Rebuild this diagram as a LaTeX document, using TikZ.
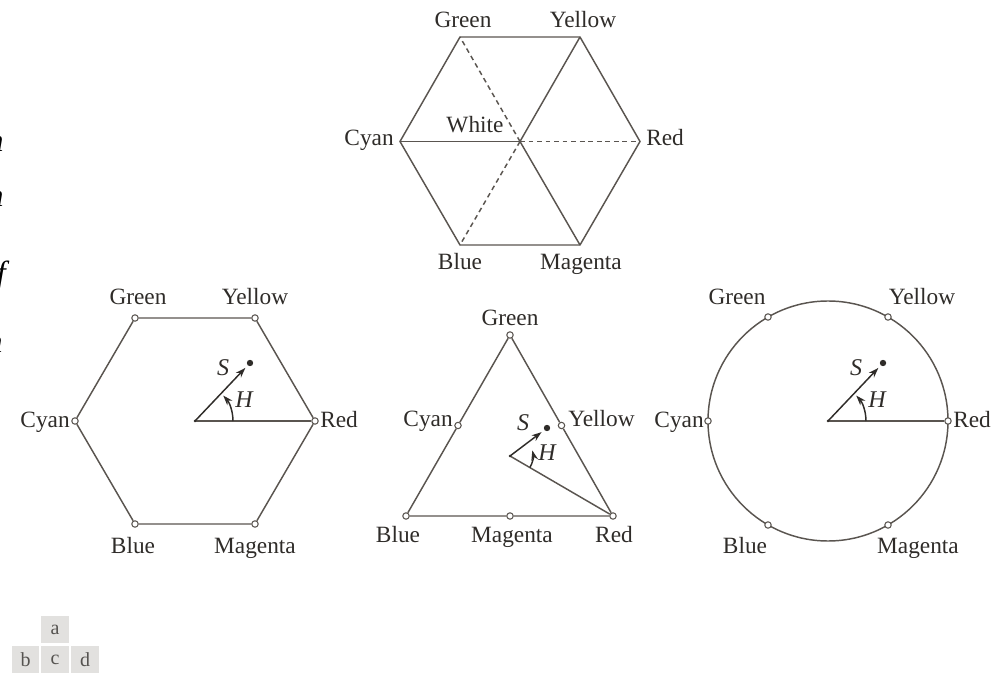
\documentclass[tikz,border=0pt]{standalone}
\usepackage{fontspec}
\setmainfont{Liberation Serif}
\usetikzlibrary{arrows.meta}

\definecolor{ink}{HTML}{5A5550}
\definecolor{txt}{HTML}{2F2C29}
\definecolor{tabfill}{HTML}{E2E1DF}
\definecolor{tabtext}{HTML}{555350}

\begin{document}
\begin{tikzpicture}[x=0.75pt,y=-0.75pt,
  edge/.style={draw=ink,line width=1.1pt},
  dashedge/.style={draw=ink,line width=1.1pt,dash pattern=on 3.6pt off 2.8pt},
  lbl/.style={text=txt,font=\fontsize{17.5}{20}\selectfont,inner sep=0pt,anchor=base},
  lblr/.style={lbl,anchor=base east},
  lbll/.style={lbl,anchor=base west},
  mathlbl/.style={text=txt,font=\itshape\fontsize{18}{20}\selectfont,inner sep=0pt},
  vtx/.style={circle,draw=ink,fill=white,line width=0.8pt,minimum size=4.8pt,inner sep=0pt},
  pt/.style={circle,fill=txt,minimum size=4.8pt,inner sep=0pt},
  orig/.style={circle,fill=txt,minimum size=2pt,inner sep=0pt},
  vec/.style={draw=txt,line width=1.1pt,-{Stealth[length=7.5pt,width=5.2pt]}},
  tabbox/.style={fill=tabfill,text=tabtext,minimum width=20.5pt,minimum height=20pt,
    inner sep=0pt,font=\fontsize{15}{18}\selectfont},
  frag/.style={text=black,font=\itshape\fontsize{24}{28}\selectfont,inner sep=0pt,anchor=base east},
]
\useasboundingbox (0,0) rectangle (1007,673);

% ---------- (a) colour hexagon ----------
\coordinate (aW) at (520,141.5);
\coordinate (aG) at (460,37);
\coordinate (aY) at (580,37);
\coordinate (aR) at (640,141.5);
\coordinate (aM) at (580,245);
\coordinate (aB) at (460,245);
\coordinate (aC) at (400,141.5);
\draw[edge] (aG)--(aY)--(aR)--(aM)--(aB)--(aC)--cycle;
\draw[edge] (aC)--(aW);
\draw[edge] (aW)--(aY);
\draw[edge] (aW)--(aM);
\draw[dashedge] (aW)--(aG);
\draw[dashedge] (aW)--(aR);
\draw[dashedge] (aW)--(aB);
\node[lbl]  (aGl) at (463,28)  {Green};
\node[lbl]  (aYl) at (583,28)  {Yellow};
\node[lblr] (aCl) at (394,146) {Cyan};
\node[lbll] (aRl) at (646,146) {Red};
\node[lbl]  (aWl) at (475,133) {White};
\node[lbl]  (aBl) at (460,270) {Blue};
\node[lbl]  (aMl) at (581,270) {Magenta};

% ---------- (b) hexagon with S and H ----------
\coordinate (bO) at (195,421);
\node[vtx] (bG) at (135,318) {};
\node[vtx] (bY) at (255,318) {};
\node[vtx] (bR) at (315,421) {};
\node[vtx] (bM) at (255,524) {};
\node[vtx] (bB) at (135,524) {};
\node[vtx] (bC) at (75,421)  {};
\draw[edge] (bG)--(bY)--(bR)--(bM)--(bB)--(bC)--(bG);
\draw[edge] (bO)--(bR);
\node[orig] (bo) at (bO) {};
\node[pt] (bS) at (250,363) {};
\draw[vec,shorten >=2.5pt] (bO)--(bS);
\draw[vec] (bO) ++(38,0) arc[start angle=0,end angle=-42,radius=38];
\node[mathlbl] (bSl) at (223,368) {S};
\node[mathlbl] (bHl) at (244,400) {H};
\node[lbl]  (bGl) at (138,305) {Green};
\node[lbl]  (bYl) at (255,305) {Yellow};
\node[lblr] (bCl) at (70,428)  {Cyan};
\node[lbll] (bRl) at (320,428) {Red};
\node[lbl]  (bBl) at (133,553) {Blue};
\node[lbl]  (bMl) at (255,553) {Magenta};

% ---------- (c) triangle with S and H ----------
\coordinate (cO) at (510,456);
\node[vtx] (cG) at (510,335) {};
\node[vtx] (cB) at (406,516) {};
\node[vtx] (cR) at (613,516) {};
\node[vtx] (cC) at (458,425.5) {};
\node[vtx] (cY) at (561.5,425.5) {};
\node[vtx] (cM) at (510,516) {};
\draw[edge] (cB)--(cC)--(cG)--(cY)--(cR)--(cM)--(cB);
\draw[edge] (cO)--(cR);
\node[orig] (co) at (cO) {};
\node[pt] (cS) at (547,428) {};
\draw[vec,shorten >=2.5pt] (cO)--(cS);
\draw[vec] (cO) ++(30:23) arc[start angle=30,end angle=-14,radius=23];
\node[mathlbl] (cSl) at (523,423) {S};
\node[mathlbl] (cHl) at (547,453) {H};
\node[lbl]  (cGl) at (510,326) {Green};
\node[lblr] (cCl) at (453,427) {Cyan};
\node[lbll] (cYl) at (568,427) {Yellow};
\node[lbl]  (cBl) at (398,542) {Blue};
\node[lbl]  (cMl) at (512,542) {Magenta};
\node[lbl]  (cRl) at (614,542) {Red};

% ---------- (d) circle with S and H ----------
\coordinate (dO) at (828,421);
\draw[edge] (dO) circle[radius=120];
\node[vtx] (dR) at (948,421) {};
\node[vtx] (dY) at (888,317) {};
\node[vtx] (dG) at (768,317) {};
\node[vtx] (dC) at (708,421) {};
\node[vtx] (dB) at (768,525) {};
\node[vtx] (dM) at (888,525) {};
\draw[edge] (dO)--(dR);
\node[orig] (do) at (dO) {};
\node[pt] (dS) at (883,363) {};
\draw[vec,shorten >=2.5pt] (dO)--(dS);
\draw[vec] (dO) ++(38,0) arc[start angle=0,end angle=-42,radius=38];
\node[mathlbl] (dSl) at (856,368) {S};
\node[mathlbl] (dHl) at (877,400) {H};
\node[lbl]  (dGl) at (737,305) {Green};
\node[lbl]  (dYl) at (922,305) {Yellow};
\node[lblr] (dCl) at (704,428) {Cyan};
\node[lbll] (dRl) at (953,428) {Red};
\node[lbl]  (dBl) at (745,553) {Blue};
\node[lbl]  (dMl) at (918,553) {Magenta};

% ---------- panel key ----------
\node[tabbox] (ka) at (55,629.5) {a};
\node[tabbox] (kb) at (25.5,659.5) {b};
\node[tabbox] (kc) at (55,659.5) {c};
\node[tabbox] (kd) at (85,659.5) {d};

% ---------- text of the neighbouring column, cut at the edge ----------
\node[frag] (f1) at (4,152) {n};
\node[frag] (f2) at (4,207) {n};
\node[frag] (f3) at (6,284) {f};
\node[frag] (f4) at (3,353) {n};
\end{tikzpicture}
\end{document}
